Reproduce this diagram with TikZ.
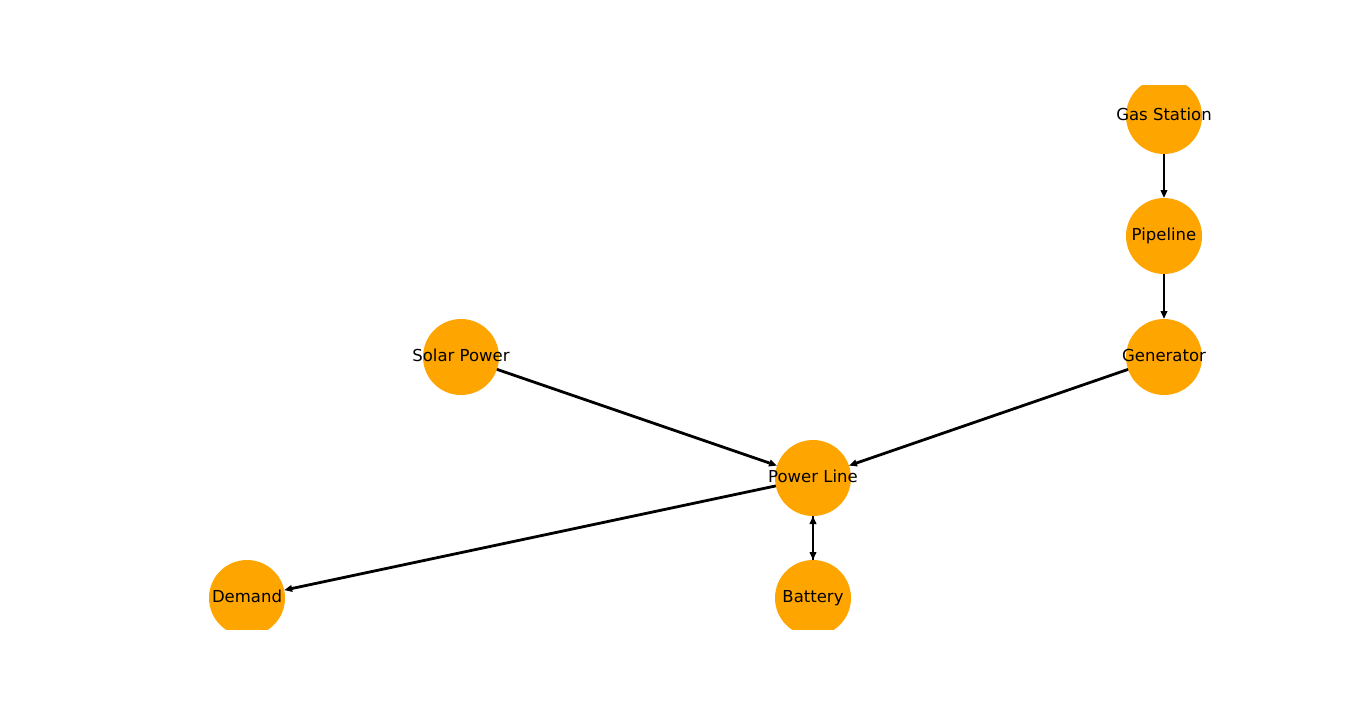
\documentclass[tikz,border=0pt]{standalone}
\usepackage{fontspec}
\setmainfont{DejaVu Sans}
\usetikzlibrary{arrows.meta}
\definecolor{nodeorange}{HTML}{FFA500}
\tikzset{
  gnode/.style={circle, fill=nodeorange, minimum size=76pt, inner sep=0pt, outer sep=0pt},
  glabel/.style={font=\fontsize{16.5}{19}\selectfont, text=black, inner sep=0pt, text height=12pt, text depth=3pt},
  gedge/.style={line width=2.8pt, draw=black, -{Triangle[length=8pt,width=6.5pt]}},
}
\begin{document}
\begin{tikzpicture}[x=1pt,y=-1pt]
\useasboundingbox (0,0) rectangle (1366,707);
\fill[white] (0,0) rectangle (1366,707);
\begin{scope}
\clip (171,85) rectangle (1229,629);
\node[gnode] (gas) at (1164,116) {};
\node[gnode] (pipe) at (1164,236) {};
\node[gnode] (gen) at (1164,357) {};
\node[gnode] (solar) at (461,357) {};
\node[gnode] (pl) at (813,478) {};
\node[gnode] (dem) at (247,598) {};
\node[gnode] (bat) at (813,598) {};
\end{scope}
\draw[gedge] (gas) -- (pipe);
\draw[gedge] (pipe) -- (gen);
\draw[gedge] (gen) -- (pl);
\draw[gedge] (solar) -- (pl);
\draw[gedge] (pl) -- (dem);
\draw[gedge] (pl) -- (bat);
\draw[gedge] (bat) -- (pl);
\node[glabel] (gasl) at (gas) {Gas Station};
\node[glabel] (pipel) at (pipe) {Pipeline};
\node[glabel] (genl) at (gen) {Generator};
\node[glabel] (solarl) at (solar) {Solar Power};
\node[glabel] (pll) at (pl) {Power Line};
\node[glabel] (deml) at (dem) {Demand};
\node[glabel] (batl) at (bat) {Battery};
\end{tikzpicture}
\end{document}
